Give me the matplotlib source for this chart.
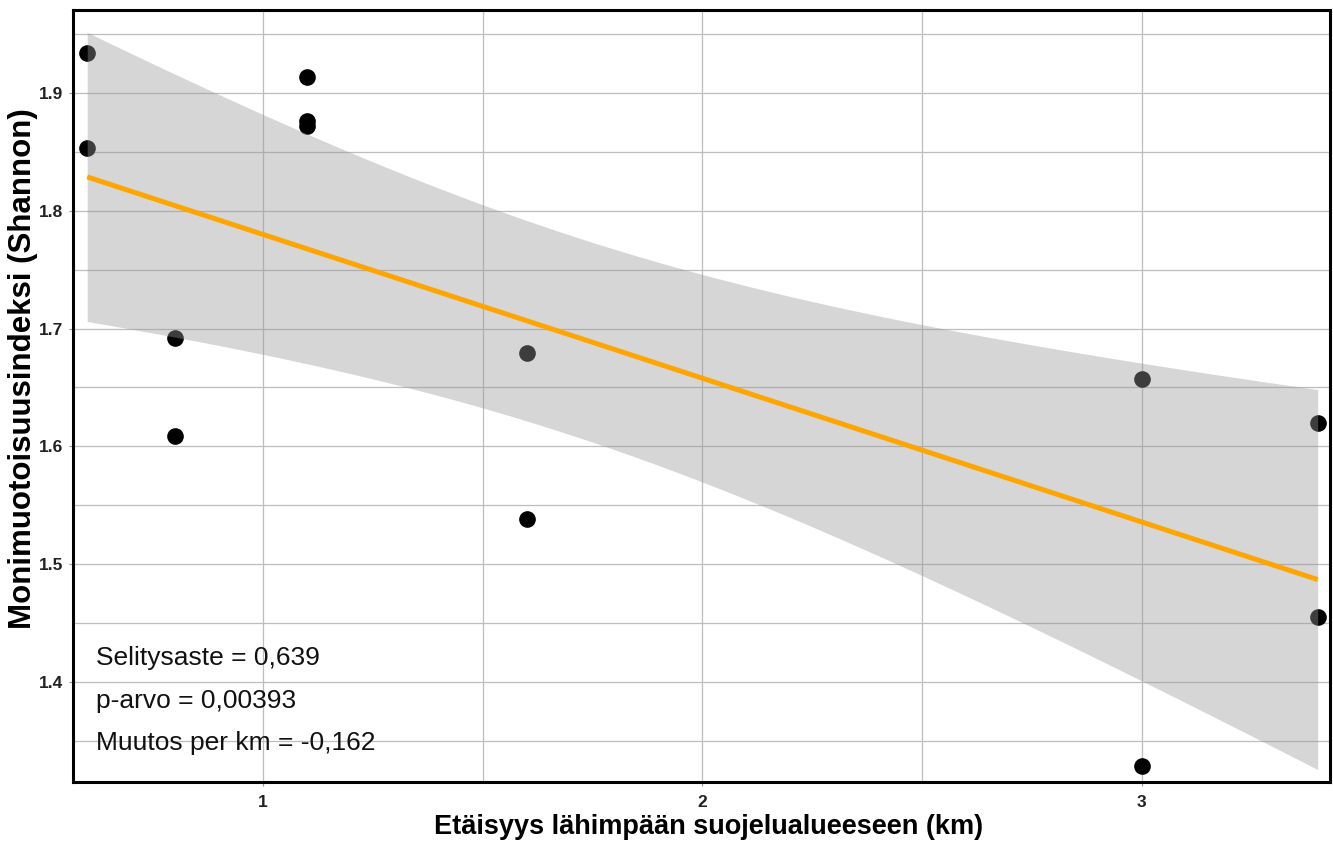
import matplotlib
matplotlib.use('Agg')
import matplotlib.pyplot as plt
from matplotlib.ticker import MultipleLocator
import numpy as np

# etäisyys (km) ja Shannon-indeksi, luettu kuvasta
dist_km = np.array([0.6, 0.6, 0.8, 0.8, 1.1, 1.1, 1.1, 1.6, 1.6, 3.0, 3.0, 3.4, 3.4])
shannon = np.array([1.934, 1.853, 1.692, 1.609, 1.914, 1.876, 1.872,
                    1.679, 1.538, 1.657, 1.329, 1.620, 1.455])

x_ticks = [1, 2, 3]
x_ticklabels = ['1', '2', '3']
y_ticks = [1.4, 1.5, 1.6, 1.7, 1.8, 1.9]
y_ticklabels = ['1.4', '1.5', '1.6', '1.7', '1.8', '1.9']

stats_text = ['Selitysaste = 0,639', 'p-arvo = 0,00393', 'Muutos per km = -0,162']
x_title = 'Etäisyys lähimpään suojelualueeseen (km)'
y_title = 'Monimuotoisuusindeksi (Shannon)'

plt.rcParams['font.family'] = ['Liberation Sans', 'DejaVu Sans']

# lineaarinen malli + 95 % luottamusväli (kuten geom_smooth(method='lm'))
n = len(dist_km)
slope, intercept = np.polyfit(dist_km, shannon, 1)
resid = shannon - (intercept + slope*dist_km)
s = np.sqrt(np.sum(resid**2)/(n - 2))
sxx = np.sum((dist_km - dist_km.mean())**2)
t_crit = 2.201  # t(0.975, df=11)
xs = np.linspace(dist_km.min(), dist_km.max(), 100)
fit = intercept + slope*xs
se = s*np.sqrt(1/n + (xs - dist_km.mean())**2/sxx)

fig = plt.figure(figsize=(13.33, 8.47), dpi=100)
ax = fig.add_axes([73/1333, 1 - 782/847, 1257/1333, 772/847])

ax.scatter(dist_km, shannon, s=12**2, color='black', zorder=3, linewidths=0)
ax.fill_between(xs, fit - t_crit*se, fit + t_crit*se, color='#999999', alpha=0.4,
                linewidth=0, zorder=4)
ax.plot(xs, fit, color='#FFA500', linewidth=3.6, zorder=5, solid_capstyle='butt')

ax.set_xlim(0.5677, 3.428)
ax.set_ylim(1.315, 1.9705)

ax.set_xticks(x_ticks)
ax.set_xticklabels(x_ticklabels)
ax.set_yticks(y_ticks)
ax.set_yticklabels(y_ticklabels)
ax.xaxis.set_minor_locator(MultipleLocator(0.5))
ax.yaxis.set_minor_locator(MultipleLocator(0.05))

ax.grid(True, which='both', color='#bdbdbd', linewidth=0.9, zorder=0)
ax.set_axisbelow(True)
ax.tick_params(which='major', length=3, width=0.9, color='#999999',
               labelsize=12.5, labelcolor='#222222')
ax.tick_params(axis='x', which='major', pad=6)
ax.tick_params(axis='y', which='major', pad=4)
ax.tick_params(which='minor', length=0)
for lab in ax.get_xticklabels() + ax.get_yticklabels():
    lab.set_fontweight('bold')

for sp in ax.spines.values():
    sp.set_linewidth(2.2)
    sp.set_color('black')
    sp.set_zorder(10)

for i, txt in enumerate(stats_text):
    ax.text(0.0183, [0.1516, 0.0959, 0.0415][i], txt, transform=ax.transAxes,
            fontsize=19, color='#111111', va='baseline', ha='left', zorder=6)

fig.text(709/1333, 1 - 827/847, x_title, ha='center', va='center',
         fontsize=19.5, fontweight='bold', color='black')
fig.text(23/1333, 1 - 369/847, y_title, ha='center', va='center', rotation=90,
         fontsize=22.5, fontweight='bold', color='black')

fig.savefig('out.png', dpi=100, facecolor='white')
